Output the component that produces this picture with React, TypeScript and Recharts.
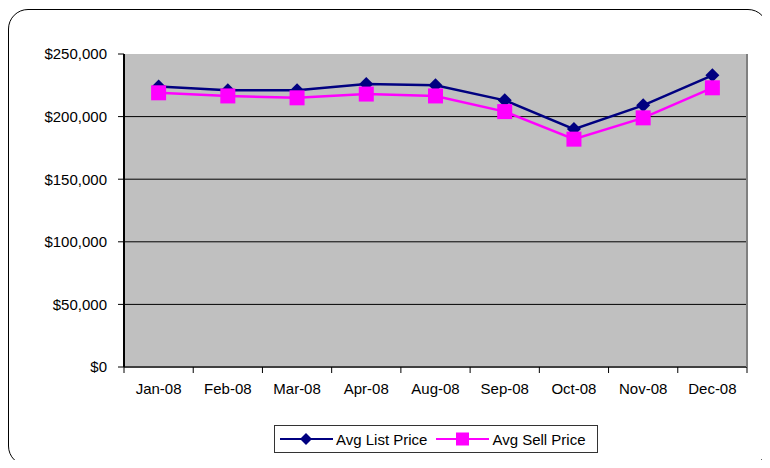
import React from 'react';
import { LineChart, Line, XAxis, YAxis, CartesianGrid } from 'recharts';

const months = ['Jan-08', 'Feb-08', 'Mar-08', 'Apr-08', 'Aug-08', 'Sep-08', 'Oct-08', 'Nov-08', 'Dec-08'];
const listPrice = [224000, 221000, 221000, 226000, 225000, 213000, 190000, 209000, 233000];
const sellPrice = [219000, 216500, 215000, 218000, 216500, 204000, 182000, 199000, 223000];
const yTicks = [0, 50000, 100000, 150000, 200000, 250000];

const data = months.map((m, i) => ({ month: m, list: listPrice[i], sell: sellPrice[i] }));

const FONT = '"Liberation Sans", Arial, sans-serif';
const NAVY = '#000080';
const PINK = '#FF00FF';
const PLOT_W = 623;

const fmt = (v: number) => '$' + v.toLocaleString('en-US');

const Diamond = (props: any) => {
  const { cx, cy } = props;
  if (cx == null || cy == null) return null;
  const r = 7;
  return <path d={`M${cx},${cy - r}L${cx + r},${cy}L${cx},${cy + r}L${cx - r},${cy}Z`} fill={NAVY} />;
};

const Square = (props: any) => {
  const { cx, cy } = props;
  if (cx == null || cy == null) return null;
  const s = 7.5;
  return <rect x={cx - s} y={cy - s} width={s * 2} height={s * 2} fill={PINK} />;
};

const MonthTick = (props: any) => {
  const { x, y, payload, index } = props;
  const half = payload && payload.offset ? payload.offset : PLOT_W / months.length / 2;
  const axisY = y - 6;
  return (
    <g>
      <line x1={x - half} y1={axisY} x2={x - half} y2={axisY + 6} stroke="#000" strokeWidth={1} />
      {index === months.length - 1 && (
        <line x1={x + half} y1={axisY} x2={x + half} y2={axisY + 6} stroke="#000" strokeWidth={1} />
      )}
      <text x={x} y={axisY + 27} textAnchor="middle" fontFamily={FONT} fontSize={15} fill="#000">
        {payload.value}
      </text>
    </g>
  );
};

const LegendBox = () => (
  <div
    style={{
      position: 'absolute',
      left: 274,
      top: 425,
      border: '1px solid #333',
      background: '#fff',
      width: 324,
      height: 28,
      display: 'flex',
      alignItems: 'center',
      fontFamily: FONT,
      fontSize: 15,
      color: '#000',
      boxSizing: 'border-box',
    }}
  >
    <svg width={54} height={16} style={{ marginLeft: 5, flex: 'none' }}>
      <line x1={0} y1={8} x2={53} y2={8} stroke={NAVY} strokeWidth={2} />
      <path d="M26,2L32,8L26,14L20,8Z" fill={NAVY} />
    </svg>
    <span style={{ marginLeft: 2 }}>Avg List Price</span>
    <svg width={54} height={16} style={{ marginLeft: 9, flex: 'none' }}>
      <line x1={0} y1={8} x2={53} y2={8} stroke={PINK} strokeWidth={2} />
      <rect x={20} y={1.5} width={13} height={13} fill={PINK} />
    </svg>
    <span style={{ marginLeft: 2 }}>Avg Sell Price</span>
  </div>
);

export default function App() {
  return (
    <div style={{ position: 'relative', width: 770, height: 468, margin: -8, overflow: 'hidden', background: '#fff' }}>
      <div
        style={{
          position: 'absolute',
          left: 8,
          top: 9,
          width: 760,
          height: 457,
          border: '1.5px solid #000',
          borderRadius: 20,
          boxSizing: 'border-box',
        }}
      />
      <div style={{ position: 'absolute', left: 0, top: 0 }}>
        <LineChart width={770} height={468} data={data} margin={{ top: 54, right: 0, bottom: 61, left: 0 }}>
          <CartesianGrid
            fill="#C0C0C0"
            fillOpacity={1}
            vertical={false}
            horizontalValues={[50000, 100000, 150000, 200000]}
            stroke="#000"
            strokeWidth={1}
            strokeOpacity={1}
          />
          <XAxis
            dataKey="month"
            scale="band"
            height={40}
            tickLine={false}
            axisLine={{ stroke: '#404040', strokeWidth: 2 }}
            tick={<MonthTick />}
            interval={0}
            tickSize={6}
            tickMargin={0}
          />
          <YAxis
            width={124}
            domain={[0, 250000]}
            ticks={yTicks}
            tickFormatter={fmt}
            tick={{ fontFamily: FONT, fontSize: 15, fill: '#000' }}
            tickLine={{ stroke: '#000' }}
            tickSize={6}
            tickMargin={11}
            axisLine={{ stroke: '#000', strokeWidth: 2 }}
          />
          <YAxis
            yAxisId="r"
            orientation="right"
            width={23}
            domain={[0, 250000]}
            tick={false}
            tickLine={false}
            axisLine={{ stroke: '#808080', strokeWidth: 2 }}
          />
          <Line
            type="linear"
            dataKey="list"
            stroke={NAVY}
            strokeWidth={2.5}
            dot={<Diamond />}
            activeDot={false}
            isAnimationActive={false}
          />
          <Line
            type="linear"
            dataKey="sell"
            stroke={PINK}
            strokeWidth={2.5}
            dot={<Square />}
            activeDot={false}
            isAnimationActive={false}
          />
        </LineChart>
      </div>
      <LegendBox />
    </div>
  );
}
